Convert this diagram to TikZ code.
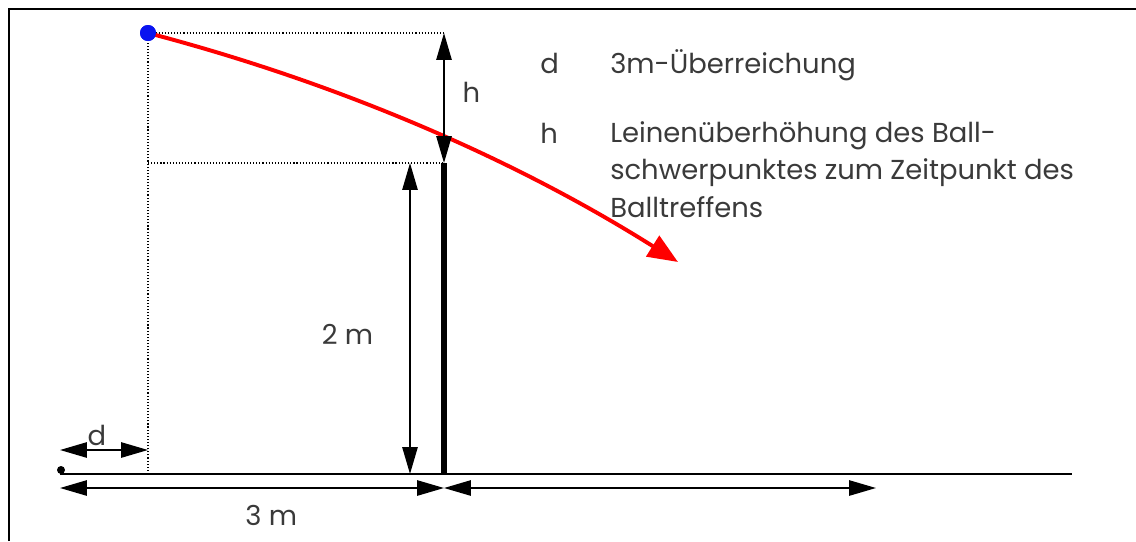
\documentclass[tikz,border=0pt]{standalone}
\usepackage{fontspec}
\setmainfont{Poppins}
\usetikzlibrary{arrows.meta,positioning,calc}
\definecolor{txtgrey}{HTML}{3A3A3A}
\definecolor{ballblue}{HTML}{0A14F0}
\definecolor{trajred}{HTML}{FF0000}

\begin{document}
\begin{tikzpicture}[
  x=0.025cm, y=-0.025cm,
  dimline/.style={{Triangle[length=6.7mm,width=3.8mm]}-{Triangle[length=6.7mm,width=3.8mm]}, line width=1.3pt},
  guide/.style={line width=0.8pt, dash pattern=on 0.8pt off 1.4pt},
  txt/.style={font=\fontsize{19.5}{26.6}\selectfont, text=txtgrey, inner sep=0pt},
  legend/.style={txt, anchor=base west, align=left},
  traj/.style={-{Triangle[length=7.5mm,width=6mm]}, trajred, line width=2.8pt},
]
  \useasboundingbox (0,0) rectangle (1136,541);
  \draw[line width=1.4pt] (9,541) -- (9,9) -- (1136,9);

  % points
  \coordinate (start) at (60,474);
  \coordinate (groundend) at (1072,474);
  \coordinate (foot) at (148,474);
  \coordinate (netfoot) at (444,474);
  \coordinate (nettop) at (444,163);
  \coordinate (hittop) at (444,33);
  \coordinate (flyend) at (678,262);
  \node[circle, fill=ballblue, minimum size=4mm, inner sep=0pt] (ball) at (148,33) {};

  % ground, net, guides
  \draw[line width=1.4pt] (start) -- (groundend);
  \fill (start) ++(1,-4) circle (4);
  \draw[line width=4.3pt] (netfoot) -- (nettop);
  \draw[guide] (foot) -- (ball.center) -- (hittop);
  \draw[guide] (148,163) coordinate (guideleft) -- (nettop);

  % ball path
  \draw[traj] (ball.center) .. controls (320,78) and (500,150) .. (flyend);
  \fill[ballblue] (ball) circle (8);

  % dimensions
  \draw[dimline] (hittop) -- (nettop);
  \node[txt, right=13pt of $(hittop)!0.46!(nettop)$] (hlbl) {h};
  \draw[dimline] (410,163) coordinate (twotop) -- (410,474) coordinate (twofoot);
  \node[txt, left=26pt of $(twotop)!0.55!(twofoot)$] (twolbl) {2 m};
  \draw[dimline] (60,450) coordinate (dleft) -- (148,450) coordinate (dright);
  \node[txt, above=3pt of $(dleft)!0.42!(dright)$] (dlbl) {d};
  \draw[dimline] (60,488) coordinate (threeleft) -- (444,488) coordinate (threeright);
  \node[txt, below=12pt of $(threeleft)!0.55!(threeright)$] (threelbl) {3 m};
  \draw[dimline] (threeright) -- (876,488) coordinate (restright);

  % legend
  \node[legend] (keyd) at (540,73) {d};
  \node[legend] (textd) at (610,73) {3m-Überreichung};
  \node[legend] (keyh) at (540,143) {h};
  \node[legend] (texth) at (610,217) {Leinenüberhöhung des Ball-\\schwerpunktes zum Zeitpunkt des\\Balltreffens};
\end{tikzpicture}
\end{document}
